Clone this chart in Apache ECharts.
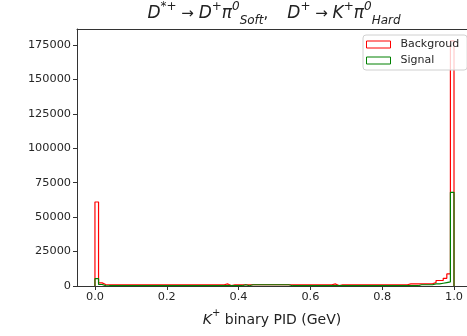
<!DOCTYPE html>
<html>
<head>
<meta charset="utf-8">
<script src="https://cdn.jsdelivr.net/npm/echarts@6/dist/echarts.min.js"></script>
<style>
html, body { margin: 0; padding: 0; background: #fff; }
#chart { width: 467px; height: 336px; }
</style>
</head>
<body>
<div id="chart"></div>
<script>
// histogram: 100 bins of width 0.01 from 0 to 1
var binLow = 0;
var binWidth = 0.01;

var bgCounts = [
    61000, 2300, 1100, 900, 900, 900, 900, 900, 900, 900,
    900, 900, 900, 900, 900, 900, 900, 900, 900, 900,
    900, 900, 900, 900, 900, 900, 900, 900, 900, 900,
    900, 900, 900, 900, 900, 900, 1500, 300, 900, 900,
    900, 900, 900, 900, 900, 900, 900, 900, 900, 900,
    900, 900, 900, 900, 900, 900, 900, 900, 900, 900,
    900, 900, 900, 900, 900, 900, 1500, 300, 900, 900,
    900, 900, 900, 900, 900, 900, 900, 900, 900, 900,
    900, 900, 900, 900, 900, 900, 900, 1500, 1500, 1500,
    1500, 1500, 1500, 1500, 2500, 4000, 4000, 5600, 8800, 178000
];

var sigCounts = [
    5300, 1100, 300, 200, 200, 200, 200, 200, 200, 200,
    200, 200, 200, 200, 200, 200, 200, 200, 200, 200,
    200, 200, 200, 200, 200, 200, 200, 200, 200, 200,
    200, 200, 200, 200, 200, 200, 200, 200, 200, 200,
    200, 900, 200, 900, 900, 900, 900, 900, 900, 900,
    900, 900, 900, 900, 200, 200, 200, 200, 200, 200,
    200, 200, 200, 200, 200, 200, 200, 200, 200, 200,
    200, 200, 200, 200, 200, 200, 200, 200, 200, 200,
    200, 200, 200, 200, 200, 200, 200, 200, 200, 200,
    900, 900, 900, 900, 1500, 1500, 2000, 2500, 3000, 68000
];

var xTicks = [0, 0.2, 0.4, 0.6, 0.8, 1.0];
var xTickLabels = ['0.0', '0.2', '0.4', '0.6', '0.8', '1.0'];
var yTicks = [0, 25000, 50000, 75000, 100000, 125000, 150000, 175000];

function stepData(counts) {
    var pts = [[binLow, 0]];
    for (var i = 0; i < counts.length; i++) {
        pts.push([binLow + i * binWidth, counts[i]]);
    }
    pts.push([binLow + counts.length * binWidth, 0]);
    return pts;
}

var chart = echarts.init(document.getElementById('chart'), null, {renderer: 'canvas'});

var tickFont = {fontFamily: 'DejaVu Sans', fontSize: 11.3, color: '#262626'};

chart.setOption({
    animation: false,
    grid: {left: 77, right: 0, top: 29, bottom: 50, outerBoundsMode: 'none', containLabel: false},
    graphic: [
        {
            type: 'text',
            x: 274,
            y: 1,
            style: {
                align: 'center',
                verticalAlign: 'top',
                text: '{i|D}{sup|*+}{n| → }{i|D}{sup|+}{i|π}{sup|0}{sub|Soft}{n|,    }' +
                      '{i|D}{sup|+}{n| → }{i|K}{sup|+}{i|π}{sup|0}{sub|Hard}',
                rich: {
                    i: {fontFamily: 'DejaVu Sans', fontStyle: 'italic', fontSize: 17, lineHeight: 26, verticalAlign: 'middle', fill: '#222'},
                    n: {fontFamily: 'DejaVu Sans', fontSize: 15, lineHeight: 26, verticalAlign: 'middle', fill: '#222'},
                    sup: {fontFamily: 'DejaVu Sans', fontStyle: 'italic', fontSize: 12, lineHeight: 14, verticalAlign: 'top', fill: '#222'},
                    sub: {fontFamily: 'DejaVu Sans', fontStyle: 'italic', fontSize: 12, lineHeight: 13, verticalAlign: 'bottom', fill: '#222'}
                }
            },
            z: 10
        },
        {
            // the original figure cuts the y label off at the left edge
            type: 'rect',
            shape: {x: 0, y: 100, width: 12, height: 100},
            style: {fill: '#fff'},
            z: 100
        }
    ],
    legend: {
        orient: 'vertical',
        left: 363,
        top: 35,
        padding: [4, 8, 4, 3],
        itemWidth: 24,
        itemHeight: 7,
        itemGap: 5,
        backgroundColor: 'rgba(255,255,255,0.8)',
        borderColor: '#d0d0d0',
        borderWidth: 1,
        borderRadius: 3,
        textStyle: {fontFamily: 'DejaVu Sans', fontSize: 11, color: '#262626', padding: [0, 0, 0, 5]},
        data: [
            {name: 'Backgroud', icon: 'rect', itemStyle: {color: '#fff', borderColor: '#ff0000', borderWidth: 1}},
            {name: 'Signal', icon: 'rect', itemStyle: {color: '#fff', borderColor: '#008000', borderWidth: 1}}
        ]
    },
    xAxis: [
        {
            type: 'value',
            min: -0.05,
            max: 1.0362,
            name: '{k|K}{s|+}{a| binary PID (GeV)}',
            nameLocation: 'middle',
            nameGap: 22,
            nameTextStyle: {
                rich: {
                    k: {fontFamily: 'DejaVu Sans', fontStyle: 'italic', fontSize: 14, color: '#222', lineHeight: 19, verticalAlign: 'bottom'},
                    a: {fontFamily: 'DejaVu Sans', fontSize: 14, color: '#222', lineHeight: 19, verticalAlign: 'bottom'},
                    s: {fontFamily: 'DejaVu Sans', fontSize: 10, color: '#222', lineHeight: 19, verticalAlign: 'top'}
                }
            },
            axisLine: {onZero: false, lineStyle: {color: '#333', width: 1}},
            axisTick: {show: true, length: 4, customValues: xTicks, lineStyle: {color: '#333'}},
            axisLabel: {
                customValues: xTicks,
                margin: 6,
                formatter: function (v) {
                    var k = xTicks.indexOf(v);
                    return k >= 0 ? xTickLabels[k] : '';
                },
                fontFamily: tickFont.fontFamily, fontSize: tickFont.fontSize, color: tickFont.color
            },
            splitLine: {show: false}
        },
        {
            type: 'value',
            position: 'top',
            min: -0.05,
            max: 1.0362,
            axisLine: {show: true, onZero: false, lineStyle: {color: '#333', width: 1}},
            axisTick: {show: false},
            axisLabel: {show: false},
            splitLine: {show: false}
        }
    ],
    yAxis: {
        type: 'value',
        min: 0,
        max: 186600,
        name: 'Entries',
        nameLocation: 'middle',
        nameRotate: 90,
        nameGap: 66,
        nameTextStyle: {fontFamily: 'DejaVu Sans', fontSize: 13, color: '#222'},
        axisLine: {show: true, onZero: false, lineStyle: {color: '#333', width: 1}},
        axisTick: {show: true, length: 4, customValues: yTicks, lineStyle: {color: '#333'}},
        axisLabel: {
            customValues: yTicks,
            margin: 6,
            formatter: function (v) { return String(v); },
            fontFamily: tickFont.fontFamily, fontSize: tickFont.fontSize, color: tickFont.color
        },
        splitLine: {show: false}
    },
    series: [
        {
            name: 'Backgroud',
            type: 'line',
            step: 'end',
            symbol: 'none',
            data: stepData(bgCounts),
            lineStyle: {color: '#ff0000', width: 1.2},
            itemStyle: {color: '#ff0000'},
            z: 2
        },
        {
            name: 'Signal',
            type: 'line',
            step: 'end',
            symbol: 'none',
            data: stepData(sigCounts),
            lineStyle: {color: '#008000', width: 1.2},
            itemStyle: {color: '#008000'},
            z: 3
        }
    ]
});
</script>
</body>
</html>
